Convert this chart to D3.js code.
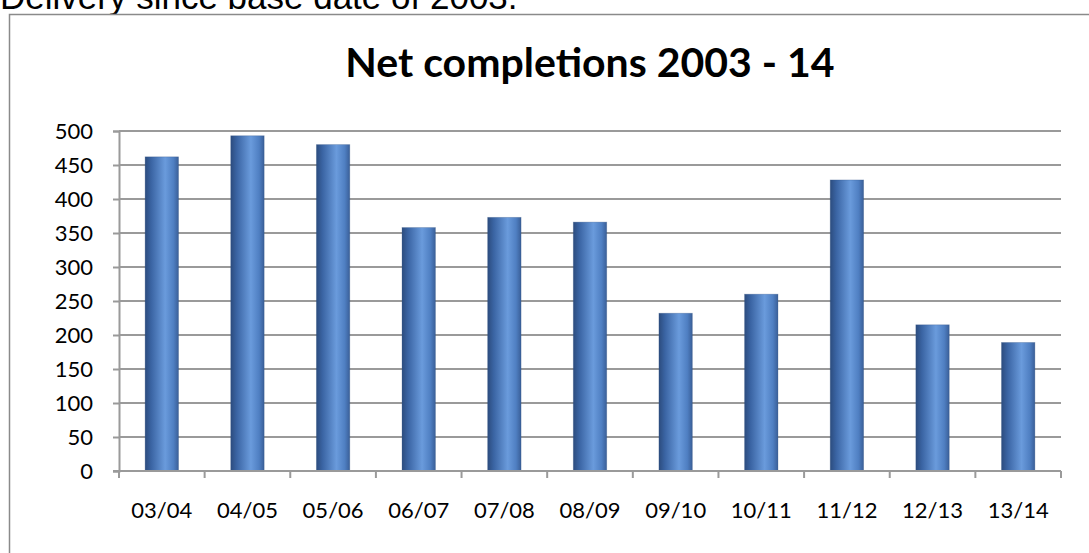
<!DOCTYPE html>
<html>
<head>
<meta charset="utf-8">
<script src="https://cdn.jsdelivr.net/npm/d3@7"></script>
<style>
  body { margin: 0; background: #fff; }
  svg { display: block; }
</style>
</head>
<body>
<div id="chart"></div>
<script>
var width = 1089
var height = 553

var categories = ["03/04", "04/05", "05/06", "06/07", "07/08", "08/09", "09/10", "10/11", "11/12", "12/13", "13/14"]
var completions = [462, 493, 480, 358, 373, 366, 232, 260, 428, 215, 189]
var yTicks = [0, 50, 100, 150, 200, 250, 300, 350, 400, 450, 500]

var plot = {left: 119, right: 1061, top: 131, bottom: 471}

var svg = d3.select("#chart").append("svg")
  .attr("width", width)
  .attr("height", height)

// cylinder look for the bars
var grad = svg.append("defs").append("linearGradient")
  .attr("id", "barGrad")
  .attr("x1", "0%").attr("x2", "100%")
  .attr("y1", "0%").attr("y2", "0%")
var stops = [[0, "#2c4c7e"], [0.18, "#3a64a3"], [0.6, "#6a9bdc"], [0.85, "#4f7fc2"], [1, "#3a5f98"]]
stops.forEach(function(s){
  grad.append("stop").attr("offset", s[0]).attr("stop-color", s[1])
})

// text above the frame, its top cut by the page edge and its descenders by the frame
svg.append("text")
  .attr("x", 0)
  .attr("y", 9)
  .attr("font-family", "Liberation Sans, Arial, sans-serif")
  .attr("font-size", 35)
  .attr("fill", "#000")
  .text("Delivery since base date of 2003.")

// chart frame
svg.append("rect")
  .attr("x", 9.5).attr("y", 14.5)
  .attr("width", 1200).attr("height", 700)
  .attr("fill", "#fff")
  .attr("stroke", "#8a8a8a")
  .attr("stroke-width", 1.5)

svg.append("text")
  .attr("x", (plot.left + plot.right) / 2)
  .attr("y", 77)
  .attr("text-anchor", "middle")
  .attr("font-family", "Lato, sans-serif")
  .attr("font-weight", "bold")
  .attr("font-size", 41)
  .text("Net completions 2003 - 14")

var x = d3.scaleBand()
  .domain(categories)
  .range([plot.left, plot.right])
  .paddingInner(0.61)
  .paddingOuter(0.305)

var y = d3.scaleLinear()
  .domain([0, 500])
  .range([plot.bottom, plot.top])

// gridlines
svg.append("g")
  .selectAll("line")
  .data(yTicks.filter(function(d){ return d > 0 }))
  .enter().append("line")
  .attr("x1", plot.left).attr("x2", plot.right)
  .attr("y1", function(d){ return y(d) }).attr("y2", function(d){ return y(d) })
  .attr("stroke", "#9a9a9a")
  .attr("stroke-width", 2)

var yAxis = svg.append("g")
  .attr("transform", "translate(" + plot.left + ",0)")
  .call(d3.axisLeft(y).tickValues(yTicks).tickSize(6).tickPadding(20))
yAxis.select(".domain").attr("stroke", "#9a9a9a").attr("stroke-width", 2)
yAxis.selectAll(".tick line").attr("stroke", "#9a9a9a").attr("stroke-width", 2)
yAxis.selectAll("text")
  .attr("font-family", "Lato, sans-serif")
  .attr("font-size", 22)
  .attr("fill", "#000")

// bars
svg.append("g")
  .selectAll("rect")
  .data(completions)
  .enter().append("rect")
  .attr("x", function(d, i){ return x(categories[i]) })
  .attr("y", function(d){ return y(d) })
  .attr("width", x.bandwidth())
  .attr("height", function(d){ return y(0) - y(d) })
  .attr("fill", "url(#barGrad)")
  .attr("stroke", "#2f4f80")
  .attr("stroke-opacity", 0.35)
  .attr("stroke-width", 0.8)

// bottom axis with ticks between categories
var step = x.step()
var xAxis = svg.append("g")
  .attr("transform", "translate(0," + plot.bottom + ")")
  .call(d3.axisBottom(x).tickSize(0).tickPadding(31))
xAxis.select(".domain").remove()
xAxis.selectAll("text")
  .attr("font-family", "Lato, sans-serif")
  .attr("font-size", 22)
  .attr("fill", "#000")

svg.append("line")
  .attr("x1", plot.left - 6).attr("x2", plot.right)
  .attr("y1", plot.bottom).attr("y2", plot.bottom)
  .attr("stroke", "#9a9a9a").attr("stroke-width", 2)

svg.append("g")
  .selectAll("line")
  .data(d3.range(categories.length + 1))
  .enter().append("line")
  .attr("x1", function(i){ return plot.left + i * step })
  .attr("x2", function(i){ return plot.left + i * step })
  .attr("y1", plot.bottom).attr("y2", plot.bottom + 7)
  .attr("stroke", "#9a9a9a").attr("stroke-width", 2)
</script>
</body>
</html>
